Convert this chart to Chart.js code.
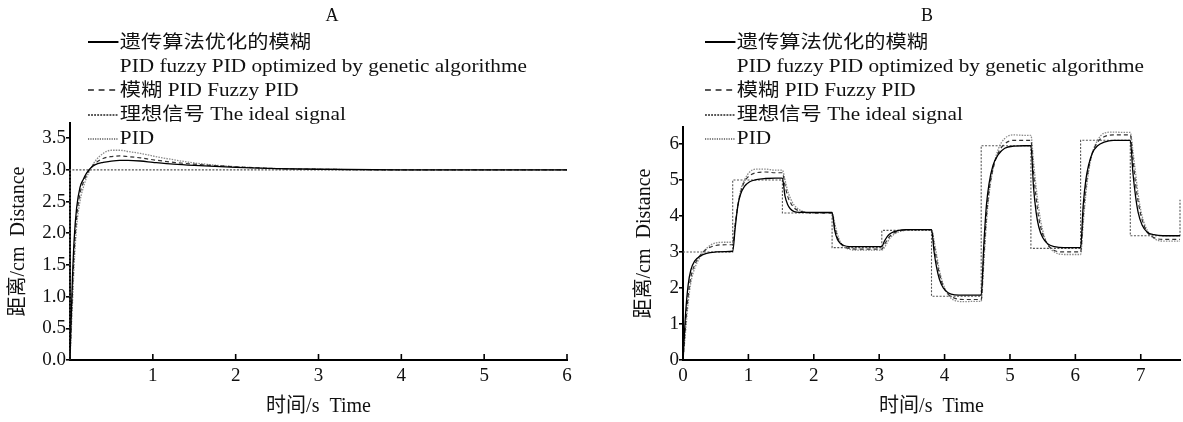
<!DOCTYPE html>
<html><head><meta charset="utf-8">
<script src="https://cdn.jsdelivr.net/npm/chart.js@4.4.1/dist/chart.umd.min.js"></script>
<style>
body{margin:0;background:#fff;width:1183px;height:422px;overflow:hidden;position:relative;font-family:'Liberation Serif','Noto Sans CJK SC',serif;color:#111}
canvas{position:absolute;top:0}
#cA{left:0}
#cB{left:600px}
.ttl{position:absolute;font-size:18px;top:5px;transform:translateX(-50%)}
.leg{position:absolute;top:30px;font-size:18px;line-height:24px;transform:scaleX(1.18);transform-origin:0 0}
.row{height:24px;white-space:nowrap;display:flex;align-items:center}
.row svg{width:26px;height:10px;flex:none;margin-right:1px}
.ind{padding-left:27px}
</style>
</head><body>
<canvas id="cA" width="590" height="422"></canvas>
<canvas id="cB" width="583" height="422"></canvas>
<div class="ttl" style="left:332px">A</div>
<div class="ttl" style="left:927px">B</div>
<div class="leg" id="legA" style="left:88px"></div>
<div class="leg" id="legB" style="left:705px"></div>
<script>
// ---- Series names ----
const nameGA1 = "遗传算法优化的模糊";
const nameGA2 = "PID fuzzy PID optimized by genetic algorithme";
const nameFuzzy = "模糊 PID Fuzzy PID";
const nameIdeal = "理想信号 The ideal signal";
const namePID = "PID";

// ---- Chart A data ----
const timeA  = [0, 0.01, 0.03, 0.05, 0.08, 0.12, 0.16, 0.2, 0.25, 0.3, 0.4, 0.5, 0.6, 0.7, 0.85, 1.0, 1.25, 1.5, 2.0, 2.5, 3.0, 4.0, 5.0, 6.0];
const gaA    = [0, 0.5, 1.3, 1.9, 2.4, 2.72, 2.85, 2.95, 3.03, 3.08, 3.12, 3.14, 3.15, 3.15, 3.14, 3.12, 3.09, 3.07, 3.04, 3.02, 3.01, 3.0, 3.0, 3.0];
const fuzzyA = [0, 0.4, 1.1, 1.7, 2.25, 2.62, 2.8, 2.92, 3.03, 3.1, 3.18, 3.21, 3.22, 3.21, 3.19, 3.16, 3.12, 3.09, 3.05, 3.02, 3.01, 3.0, 3.0, 3.0];
const pidA   = [0, 0.3, 0.9, 1.5, 2.1, 2.5, 2.72, 2.88, 3.02, 3.13, 3.26, 3.31, 3.31, 3.29, 3.26, 3.22, 3.16, 3.11, 3.05, 3.02, 3.01, 3.0, 3.0, 3.0];
const idealTimeA = [0, 0, 6];
const idealA     = [0, 3, 3];
const xTicksA = [1, 2, 3, 4, 5, 6];
const yTicksA = [0, 0.5, 1.0, 1.5, 2.0, 2.5, 3.0, 3.5];

// ---- Chart B data ----
const timeB = [
  0, 0.04, 0.08, 0.12, 0.18, 0.26, 0.36, 0.5, 0.65,
  0.76, 0.80, 0.84, 0.88, 0.94, 1.02, 1.12, 1.26, 1.41,
  1.52, 1.56, 1.60, 1.64, 1.70, 1.78, 1.88, 2.02, 2.17,
  2.28, 2.32, 2.36, 2.40, 2.46, 2.54, 2.64, 2.78, 2.93,
  3.04, 3.08, 3.12, 3.16, 3.22, 3.30, 3.40, 3.54, 3.69,
  3.80, 3.84, 3.88, 3.92, 3.98, 4.06, 4.16, 4.30, 4.45,
  4.56, 4.60, 4.64, 4.68, 4.74, 4.82, 4.92, 5.06, 5.21,
  5.32, 5.36, 5.40, 5.44, 5.50, 5.58, 5.68, 5.82, 5.97,
  6.08, 6.12, 6.16, 6.20, 6.26, 6.34, 6.44, 6.58, 6.73,
  6.84, 6.88, 6.92, 6.96, 7.02, 7.10, 7.20, 7.34, 7.49,
  7.6];
const gaB = [
  0, 1.3, 2.1, 2.5, 2.75, 2.88, 2.96, 3.0, 3.01,
  3.02, 3.7, 4.3, 4.6, 4.82, 4.95, 5.01, 5.04, 5.05,
  5.05, 4.55, 4.32, 4.2, 4.12, 4.1, 4.1, 4.1, 4.1,
  4.1, 3.6, 3.35, 3.25, 3.18, 3.15, 3.15, 3.15, 3.15,
  3.15, 3.3, 3.42, 3.5, 3.56, 3.6, 3.62, 3.62, 3.62,
  3.62, 3.0, 2.55, 2.25, 2.0, 1.86, 1.81, 1.8, 1.8,
  1.8, 3.2, 4.3, 4.9, 5.4, 5.7, 5.88, 5.94, 5.95,
  5.95, 4.8, 4.1, 3.7, 3.4, 3.22, 3.15, 3.12, 3.12,
  3.12, 4.3, 5.0, 5.4, 5.75, 5.95, 6.05, 6.1, 6.1,
  6.1, 5.2, 4.55, 4.1, 3.75, 3.55, 3.48, 3.45, 3.45,
  3.45];
const fuzzyB = [
  0, 1.0, 1.8, 2.3, 2.65, 2.9, 3.08, 3.18, 3.2,
  3.2, 3.8, 4.3, 4.65, 4.95, 5.12, 5.2, 5.22, 5.2,
  5.2, 4.85, 4.55, 4.38, 4.22, 4.14, 4.1, 4.08, 4.08,
  4.08, 3.7, 3.42, 3.27, 3.15, 3.1, 3.08, 3.08, 3.08,
  3.08, 3.2, 3.33, 3.43, 3.52, 3.58, 3.61, 3.62, 3.62,
  3.62, 3.2, 2.75, 2.4, 2.05, 1.82, 1.71, 1.68, 1.68,
  1.68, 2.9, 4.0, 4.7, 5.3, 5.75, 6.0, 6.1, 6.1,
  6.1, 5.2, 4.5, 3.95, 3.5, 3.2, 3.04, 3.0, 3.0,
  3.0, 4.0, 4.8, 5.3, 5.75, 6.05, 6.2, 6.25, 6.25,
  6.25, 5.6, 4.9, 4.4, 3.9, 3.55, 3.4, 3.35, 3.35,
  3.35];
const pidB = [
  0, 0.8, 1.6, 2.15, 2.55, 2.85, 3.1, 3.25, 3.27,
  3.27, 3.8, 4.3, 4.7, 5.0, 5.22, 5.3, 5.3, 5.27,
  5.27, 5.0, 4.7, 4.5, 4.3, 4.17, 4.1, 4.08, 4.08,
  4.08, 3.8, 3.5, 3.3, 3.15, 3.08, 3.05, 3.05, 3.05,
  3.05, 3.12, 3.25, 3.37, 3.48, 3.56, 3.6, 3.62, 3.62,
  3.62, 3.3, 2.9, 2.5, 2.1, 1.8, 1.65, 1.62, 1.63,
  1.63, 2.7, 3.8, 4.6, 5.3, 5.85, 6.15, 6.25, 6.24,
  6.24, 5.5, 4.8, 4.2, 3.6, 3.2, 3.0, 2.93, 2.93,
  2.93, 3.8, 4.6, 5.2, 5.75, 6.1, 6.3, 6.33, 6.32,
  6.32, 5.8, 5.2, 4.6, 4.0, 3.6, 3.38, 3.3, 3.3,
  3.3];
const idealTimeB = [0, 0.76, 1.52, 2.28, 3.04, 3.8, 4.56, 5.32, 6.08, 6.84, 7.6, 7.6];
const idealB     = [3, 5.0, 4.08, 3.12, 3.6, 1.77, 5.95, 3.1, 6.1, 3.45, 3.45, 4.45];
const xTicksB = [0, 1, 2, 3, 4, 5, 6, 7];
const yTicksB = [0, 1, 2, 3, 4, 5, 6];

const axisTitleY = "距离/cm  Distance";
const axisTitleX = "时间/s  Time";

// ---- helpers ----
const pts = (xs, ys) => xs.map((x, i) => ({x: x, y: ys[i]}));
const FONT = "'Liberation Serif','Noto Sans CJK SC',serif";

const innerTicks = {
  id: 'innerTicks',
  afterDraw(chart) {
    const s = chart.scales.x, ctx = chart.ctx;
    ctx.save();
    ctx.strokeStyle = '#000';
    ctx.lineWidth = 1.6;
    s.ticks.forEach(t => {
      const px = s.getPixelForValue(t.value);
      ctx.beginPath();
      ctx.moveTo(px, s.top);
      ctx.lineTo(px, s.top - 6);
      ctx.stroke();
    });
    ctx.restore();
  }
};

function build(canvasId, d) {
  return new Chart(document.getElementById(canvasId), {
    type: 'line',
    data: {
      datasets: [
        {label: 'ideal', data: pts(d.idealT, d.ideal), borderColor: '#555', borderWidth: 1.1, borderDash: [2, 1.5], pointRadius: 0, stepped: d.stepped, tension: 0, order: 4},
        {label: 'PID', data: pts(d.t, d.pid), borderColor: '#8a8a8a', borderWidth: 1.3, borderDash: [1.5, 1.2], pointRadius: 0, cubicInterpolationMode: 'monotone', order: 3},
        {label: 'Fuzzy', data: pts(d.t, d.fuzzy), borderColor: '#333', borderWidth: 1.2, borderDash: [4, 3], pointRadius: 0, cubicInterpolationMode: 'monotone', order: 2},
        {label: 'GA', data: pts(d.t, d.ga), borderColor: '#000', borderWidth: 1.3, pointRadius: 0, cubicInterpolationMode: 'monotone', order: 1}
      ]
    },
    options: {
      responsive: false,
      animation: false,
      devicePixelRatio: 1,
      clip: false,
      layout: {padding: {top: d.padTop, right: d.padRight, left: 0, bottom: 0}},
      plugins: {legend: {display: false}, tooltip: {enabled: false}},
      scales: {
        x: {
          type: 'linear', min: 0, max: d.xMax,
          afterBuildTicks: s => { s.ticks = d.xTicks.map(v => ({value: v})); },
          afterFit: s => { s.height = 62; },
          grid: {display: false, drawTicks: false},
          border: {display: true, color: '#000', width: 2},
          ticks: {padding: 5, color: '#111', font: {family: FONT, size: 19}, maxRotation: 0, autoSkip: false},
          title: {display: true, text: axisTitleX, color: '#111', font: {family: FONT, size: 20}, padding: {top: 0, bottom: 3}}
        },
        y: {
          type: 'linear', min: 0, max: d.yMax,
          afterBuildTicks: s => { s.ticks = d.yTicks.map(v => ({value: v})); },
          afterFit: s => { s.width = d.yWidth; },
          grid: {drawOnChartArea: false, drawTicks: true, tickLength: 4, color: '#000', lineWidth: 1.6},
          border: {display: true, color: '#000', width: 2},
          ticks: {padding: 0, color: '#111', font: {family: FONT, size: 19}, autoSkip: false, callback: d.yFmt},
          title: {display: true, text: axisTitleY, color: '#111', font: {family: FONT, size: 20}, padding: {top: d.yTitlePad, bottom: 0}}
        }
      }
    },
    plugins: [innerTicks]
  });
}

build('cA', {
  t: timeA, ga: gaA, fuzzy: fuzzyA, pid: pidA, idealT: idealTimeA, ideal: idealA, stepped: false,
  xMax: 6, yMax: 3.74, xTicks: xTicksA, yTicks: yTicksA,
  padTop: 123, padRight: 23, yWidth: 70, yTitlePad: 7,
  yFmt: v => Number(v).toFixed(1)
});
build('cB', {
  t: timeB, ga: gaB, fuzzy: fuzzyB, pid: pidB, idealT: idealTimeB, ideal: idealB, stepped: 'before',
  xMax: 7.6, yMax: 6.47, xTicks: xTicksB, yTicks: yTicksB,
  padTop: 127, padRight: 3, yWidth: 83, yTitlePad: 33,
  yFmt: v => String(v)
});

// ---- legends ----
const svgSolid = '<svg viewBox="0 0 26 10"><line x1="0" y1="5" x2="26" y2="5" stroke="#000" stroke-width="2"/></svg>';
const svgDash  = '<svg viewBox="0 0 26 10"><line x1="0" y1="5" x2="26" y2="5" stroke="#222" stroke-width="1.6" stroke-dasharray="5 4"/></svg>';
const svgIdeal = '<svg viewBox="0 0 26 10"><line x1="0" y1="6" x2="26" y2="6" stroke="#222" stroke-width="1.4" stroke-dasharray="1.6 1"/></svg>';
const svgPID   = '<svg viewBox="0 0 26 10"><line x1="0" y1="6" x2="26" y2="6" stroke="#555" stroke-width="1.4" stroke-dasharray="1 1"/></svg>';
function legendHTML() {
  return '<div class="row">' + svgSolid + '<span>' + nameGA1 + '</span></div>' +
         '<div class="row ind"><span>' + nameGA2 + '</span></div>' +
         '<div class="row">' + svgDash + '<span>' + nameFuzzy + '</span></div>' +
         '<div class="row">' + svgIdeal + '<span>' + nameIdeal + '</span></div>' +
         '<div class="row">' + svgPID + '<span>' + namePID + '</span></div>';
}
document.getElementById('legA').innerHTML = legendHTML();
document.getElementById('legB').innerHTML = legendHTML();
</script>
</body></html>
